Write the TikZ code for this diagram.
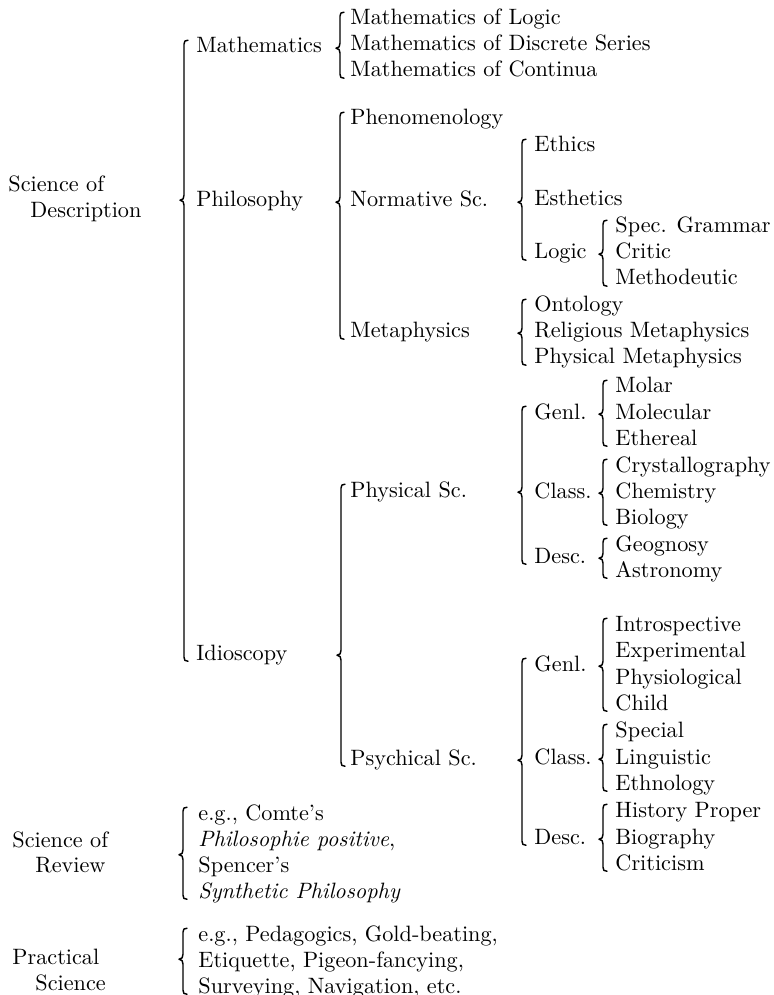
\documentclass[tikz,border=0pt]{standalone}
\usepackage{tikz}
\usetikzlibrary{calc}
\tikzset{
 item/.style={anchor=base west, inner sep=0pt},
 bracestroke/.style={line width=0.65pt, line cap=round, line join=round}
}
% curly brace left of a column: [gap]{first}{tip}{last}
\newcommand{\classbrace}[4][11]{%
 \coordinate (bt) at ($(#2.mid west)+(-#1,-8)$);
 \coordinate (bb0) at (bt |- #4.mid);
 \coordinate (bb) at ($(bb0)+(0,6)$);
 \coordinate (bp) at (bt |- #3);
 \draw[bracestroke] ($(bt)+(4,0)$) .. controls ($(bt)+(1,0)$) and ($(bt)+(0,1)$) .. ($(bt)+(0,4)$)
  -- ($(bp)+(0,-5)$) .. controls ($(bp)+(0,-2)$) and ($(bp)+(-1,0)$) .. ($(bp)+(-4,0)$)
  .. controls ($(bp)+(-1,0)$) and ($(bp)+(0,2)$) .. ($(bp)+(0,5)$)
  -- ($(bb)+(0,-4)$) .. controls ($(bb)+(0,-1)$) and ($(bb)+(1,0)$) .. ($(bb)+(4,0)$);
}
\begin{document}
\begin{tikzpicture}[x=0.45pt,y=-0.45pt]
\useasboundingbox (0,0) rectangle (773,995);

\node[item] (descA) at (8,192) {Science of};
\node[item] (descB) at (30,218) {Description};
\coordinate (descM) at ($(descA.mid)!0.5!(descB.mid)$);

\node[item] (math) at (196,53) {Mathematics};
\node[item] (phil) at (196,207) {Philosophy};
\node[item] (idio) at (196,660) {Idioscopy};

\node[item] (mlogic) at (350,25) {Mathematics of Logic};
\node[item] (mdisc) at (350,51) {Mathematics of Discrete Series};
\node[item] (mcont) at (350,77) {Mathematics of Continua};

\node[item] (phen) at (350,125) {Phenomenology};
\node[item] (norm) at (350,207) {Normative Sc.};
\node[item] (meta) at (350,338) {Metaphysics};

\node[item] (ethics) at (534,152) {Ethics};
\node[item] (esth) at (534,206) {Esthetics};
\node[item] (logic) at (534,259) {Logic};

\node[item] (grammar) at (615,233) {Spec. Grammar};
\node[item] (critic) at (615,259) {Critic};
\node[item] (method) at (615,285) {Methodeutic};

\node[item] (onto) at (534,312) {Ontology};
\node[item] (relmeta) at (534,338) {Religious Metaphysics};
\node[item] (physmeta) at (534,364) {Physical Metaphysics};

\node[item] (phys) at (350,497) {Physical Sc.};
\node[item] (psych) at (350,765) {Psychical Sc.};

\node[item] (pgenl) at (534,419) {Genl.};
\node[item] (molar) at (615,393) {Molar};
\node[item] (molec) at (615,419) {Molecular};
\node[item] (ether) at (615,445) {Ethereal};

\node[item] (pclass) at (534,498) {Class.};
\node[item] (cryst) at (615,472) {Crystallography};
\node[item] (chem) at (615,498) {Chemistry};
\node[item] (bio) at (615,524) {Biology};

\node[item] (pdesc) at (534,563) {Desc.};
\node[item] (geog) at (615,551) {Geognosy};
\node[item] (astro) at (615,577) {Astronomy};

\node[item] (qgenl) at (534,671) {Genl.};
\node[item] (intro) at (615,631) {Introspective};
\node[item] (exper) at (615,657) {Experimental};
\node[item] (physio) at (615,684) {Physiological};
\node[item] (child) at (615,710) {Child};

\node[item] (qclass) at (534,764) {Class.};
\node[item] (special) at (615,737) {Special};
\node[item] (ling) at (615,764) {Linguistic};
\node[item] (ethno) at (615,790) {Ethnology};

\node[item] (qdesc) at (534,844) {Desc.};
\node[item] (hist) at (615,817) {History Proper};
\node[item] (biog) at (615,844) {Biography};
\node[item] (crit) at (615,870) {Criticism};

\node[item] (revA) at (12,847) {Science of};
\node[item] (revB) at (35,872) {Review};
\coordinate (revM) at ($(revA.mid)!0.5!(revB.mid)$);
\node[item] (comte) at (198,820) {e.g., Comte's};
\node[item] (philpos) at (198,846) {\textit{Philosophie positive},};
\node[item] (spencer) at (198,872) {Spencer's};
\node[item] (synth) at (198,898) {\textit{Synthetic Philosophy}};

\node[item] (pracA) at (12,964) {Practical};
\node[item] (pracB) at (35,990) {Science};
\node[item] (peda) at (198,941) {e.g., Pedagogics, Gold-beating,};
\node[item] (etiq) at (198,967) {Etiquette, Pigeon-fancying,};
\node[item] (surv) at (198,993) {Surveying, Navigation, etc.};

\classbrace[12]{math}{descM}{idio}
\classbrace[10]{mlogic}{math.mid}{mcont}
\classbrace[10]{phen}{phil.mid}{meta}
\classbrace[12]{ethics}{norm.mid}{logic}
\classbrace[12]{grammar}{logic.mid}{method}
\classbrace[12]{onto}{meta.mid}{physmeta}
\classbrace[9]{phys}{idio.mid}{psych}
\classbrace[12]{pgenl}{phys.mid}{pdesc}
\classbrace[12]{molar}{pgenl.mid}{ether}
\classbrace[12]{cryst}{pclass.mid}{bio}
\classbrace[12]{geog}{pdesc.mid}{astro}
\classbrace[12]{qgenl}{psych.mid}{qdesc}
\classbrace[12]{intro}{qgenl.mid}{child}
\classbrace[12]{special}{qclass.mid}{ethno}
\classbrace[12]{hist}{qdesc.mid}{crit}
\classbrace[15]{comte}{revM}{synth}
\classbrace[15]{peda}{pracA.mid}{surv}
\end{tikzpicture}
\end{document}
